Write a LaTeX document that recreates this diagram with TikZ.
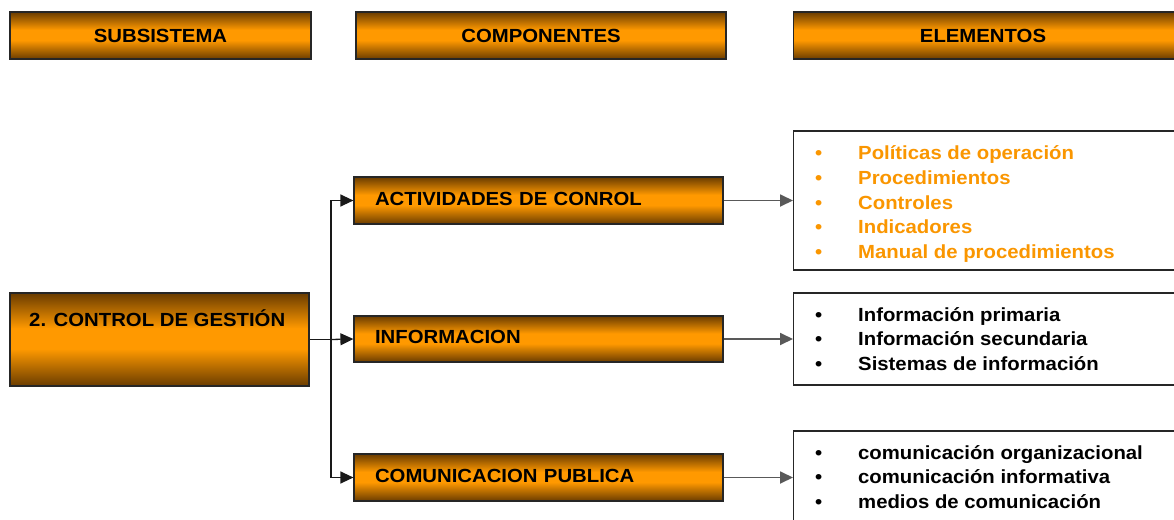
\documentclass[tikz,border=0pt]{standalone}
\usepackage{fontspec}
\setmainfont{Liberation Sans}[FakeStretch=1.07]
\usetikzlibrary{arrows.meta}
\definecolor{dkbrown}{HTML}{6A3C00}
\definecolor{orng}{HTML}{FF9900}
\definecolor{lorng}{HTML}{FA9600}
\pgfdeclareverticalshading{barshade}{100bp}{color(0bp)=(dkbrown); color(25bp)=(dkbrown); color(45bp)=(orng); color(56bp)=(orng); color(75bp)=(dkbrown); color(100bp)=(dkbrown)}
\tikzset{
  x=1pt, y=-1pt,
  gbox/.style={draw=black!85, line width=1.2pt, rectangle, inner sep=0pt,
    shading=barshade,
    font=\fontsize{19}{22}\selectfont\bfseries},
  listbox/.style={draw=black!85, line width=1.2pt, fill=white, rectangle, inner sep=0pt},
  listtxt/.style={anchor=north west, inner sep=0pt, align=left,
    font=\fontsize{19}{24.7}\selectfont\bfseries},
  conn/.style={line width=1.3pt, draw=black!90},
  connr/.style={line width=1.8pt, draw=black!65},
  tip/.style={-{Triangle[length=13pt,width=12pt]}},
}
\begin{document}
\begin{tikzpicture}
\useasboundingbox (0,0) rectangle (1174,519);
\clip (0,0) rectangle (1174,519);
% headers
\node[gbox, minimum width=301pt, minimum height=47pt] (h1) at (160.5,35.5) {SUBSISTEMA};
\node[gbox, minimum width=370pt, minimum height=47pt] (h2) at (541,35.5) {COMPONENTES};
\node[gbox, minimum width=390pt, minimum height=47pt, anchor=west] (h3) at (793,35.5) {};
\node[font=\fontsize{19}{22}\selectfont\bfseries, inner sep=0pt] (h3t) at (983,35.5) {ELEMENTOS};
% main box
\node[gbox, minimum width=299pt, minimum height=93pt] (main) at (159.5,339.5) {};
\node[anchor=west, inner sep=0pt, font=\fontsize{19}{22}\selectfont\bfseries] (mainlbl) at (29,318) {2. CONTROL DE GESTIÓN};
% components
\node[gbox, minimum width=369pt, minimum height=47pt, text width=327pt, align=left] (c1) at (538.5,200.5) {ACTIVIDADES DE CONROL\vphantom{p}};
\node[gbox, minimum width=369pt, minimum height=46pt, text width=327pt, align=left] (c2) at (538.5,339) {INFORMACION\vphantom{p}};
\node[gbox, minimum width=369pt, minimum height=47pt, text width=327pt, align=left] (c3) at (538.5,477.5) {COMUNICACION PUBLICA\vphantom{p}};
% element boxes
\node[listbox, minimum width=400pt, minimum height=139pt, anchor=west] (e1) at (793,200.5) {};
\node[listbox, minimum width=400pt, minimum height=92pt, anchor=west] (e2) at (793,339) {};
\node[listbox, minimum width=400pt, minimum height=93pt, anchor=west] (e3) at (793,477.5) {};
\node[listtxt, text=lorng] (e1t) at (815,145.5) {%
\makebox[43pt][l]{•}Políticas de operación\\
\makebox[43pt][l]{•}Procedimientos\\
\makebox[43pt][l]{•}Controles\\
\makebox[43pt][l]{•}Indicadores\\
\makebox[43pt][l]{•}Manual de procedimientos};
\node[listtxt] (e2t) at (815,307) {%
\makebox[43pt][l]{•}Información primaria\\
\makebox[43pt][l]{•}Información secundaria\\
\makebox[43pt][l]{•}Sistemas de información};
\node[listtxt] (e3t) at (815,445) {%
\makebox[43pt][l]{•}comunicación organizacional\\
\makebox[43pt][l]{•}comunicación informativa\\
\makebox[43pt][l]{•}medios de comunicación};
% connectors
\coordinate (j) at (331,339.5);
\draw[conn] (main.east) -- (j);
\draw[conn, tip] (j) |- (c1.west);
\draw[conn, tip] (j) -- (c2.west);
\draw[conn, tip] (j) |- (c3.west);
\draw[connr, tip] (c1.east) -- (e1.west);
\draw[connr, tip] (c2.east) -- (e2.west);
\draw[connr, tip] (c3.east) -- (e3.west);
\end{tikzpicture}
\end{document}
